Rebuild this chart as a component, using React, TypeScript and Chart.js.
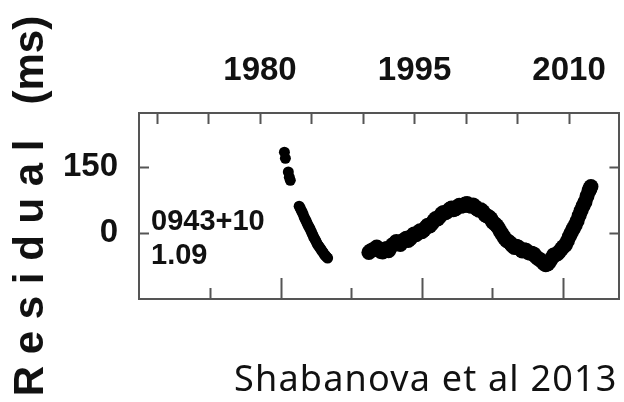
import React, { useEffect, useRef } from "react";
import { Chart, registerables } from "chart.js";

Chart.register(...registerables);

// Timing residuals of PSR 0943+10 (MJD vs residual in ms)
const mjdEarly = [
  45105, 45140, 45244, 45279, 45314,
  45628, 45663, 45697, 45732, 45767, 45802, 45837, 45871, 45906, 45941,
  45976, 46011, 46046, 46080, 46115, 46150, 46185, 46220, 46255, 46290,
  46324, 46359, 46394, 46429, 46464, 46498, 46533, 46568, 46603, 46638,
];
const residualEarly = [
  184, 170, 139, 127, 120,
  61, 57, 52, 48, 43, 37, 32, 28, 23, 18,
  14, 10, 5, 0, -5, -10, -14, -18, -23, -27,
  -30, -33, -36, -40, -43, -46, -50, -52, -55, -57,
];

const mjdLate = [
  48101, 48171, 48241, 48310, 48380, 48450, 48519, 48589, 48659, 48728,
  48798, 48868, 48937, 49007, 49077, 49146, 49216, 49286, 49355, 49425,
  49495, 49565, 49634, 49704, 49774, 49843, 49913, 49983, 50052, 50122,
  50192, 50261, 50331, 50401, 50470, 50540, 50610, 50680, 50749, 50819,
  50888, 50958, 51028, 51098, 51167, 51237, 51307, 51376, 51446, 51516,
  51585, 51655, 51725, 51795, 51864, 51933, 52003, 52073, 52143, 52212,
  52282, 52352, 52421, 52491, 52561, 52630, 52700, 52770, 52839, 52909,
  52979, 53048, 53118, 53188, 53258, 53327, 53397, 53467, 53536, 53606,
  53676, 53746, 53815, 53885, 53954, 54024, 54094, 54163, 54233, 54303,
  54372, 54442, 54512, 54582, 54651, 54721, 54791, 54861, 54930, 55000,
  55069, 55139, 55209, 55279, 55348, 55418, 55487, 55557, 55627, 55697,
  55766, 55836, 55905, 55940, 55975,
];
const residualLate = [
  -44, -40, -38, -36, -32, -37, -42, -43, -37, -35,
  -40, -33, -27, -24, -19, -22, -26, -20, -15, -12,
  -17, -13, -6, -2, -4, 1, 5, 3, 7, 13,
  18, 16, 21, 28, 33, 32, 37, 44, 47, 46,
  49, 54, 57, 53, 55, 60, 63, 61, 62, 66,
  67, 62, 61, 64, 60, 55, 52, 53, 49, 42,
  39, 37, 33, 25, 21, 17, 11, 3, -4, -11,
  -17, -19, -23, -29, -33, -30, -32, -37, -41, -38,
  -39, -44, -46, -46, -48, -54, -58, -60, -64, -69,
  -72, -70, -65, -58, -50, -49, -47, -42, -36, -31,
  -27, -18, -8, 1, 10, 18, 28, 40, 51, 62,
  71, 84, 96, 101, 106,
];

// Axis ticks
const yearTicks = [1970, 1975, 1980, 1985, 1990, 1995, 2000, 2005, 2010];
const yearLabels = [1980, 1995, 2010];
const mjdMajorTicks = [45000, 50000, 55000];
const mjdMinorTicks = [42500, 47500, 52500];
const residualTicks = [0, 150];

const pulsarName = "0943+10";
const pulsarPeriod = "1.09";
const sourceNote = "Shabanova et al 2013";
const axisTitle = "R e s i d u a l   (ms)";

const MJD_MIN = 39949;
const MJD_MAX = 56985;
const RES_MIN = -150;
const RES_MAX = 273;
const mjdToYear = (m: number) => 1858.877 + m / 365.25;

const BOLD = "'Liberation Sans', Arial, sans-serif";
const FRAME = "#555";

const setTicks = (values: number[]) => (scale: any) => {
  scale.ticks = values.map((value) => ({ value }));
};

const notesPlugin = {
  id: "notes",
  afterDraw(chart: any) {
    const { ctx } = chart;
    ctx.save();
    ctx.fillStyle = "#111";
    ctx.textAlign = "left";
    ctx.textBaseline = "alphabetic";
    ctx.font = `bold 29px ${BOLD}`;
    ctx.fillText(pulsarName, 151, 230);
    ctx.fillText(pulsarPeriod, 151, 264);
    ctx.font = "36px 'Noto Sans', 'Open Sans', sans-serif";
    (ctx as any).letterSpacing = "1.2px";
    ctx.fillText(sourceNote, 234, 391);
    ctx.restore();
  },
};

export default function App() {
  const canvasRef = useRef<HTMLCanvasElement | null>(null);

  useEffect(() => {
    const canvas = canvasRef.current;
    if (!canvas) return;
    const chart = new Chart(canvas, {
      type: "scatter",
      data: {
        datasets: [
          {
            data: mjdEarly.map((x, i) => ({ x, y: residualEarly[i] })),
            backgroundColor: "#000",
            borderWidth: 0,
            pointRadius: 5.5,
            xAxisID: "x",
            yAxisID: "y",
          },
          {
            data: mjdLate.map((x, i) => ({ x, y: residualLate[i] })),
            backgroundColor: "#000",
            borderWidth: 0,
            pointRadius: 7.5,
            xAxisID: "x",
            yAxisID: "y",
          },
        ],
      },
      options: {
        animation: false,
        responsive: false,
        devicePixelRatio: 1,
        layout: { padding: { left: 0, right: 12, top: 0, bottom: 103 }, autoPadding: false },
        plugins: { legend: { display: false }, tooltip: { enabled: false } },
        scales: {
          x: {
            type: "linear",
            position: "bottom",
            min: MJD_MIN,
            max: MJD_MAX,
            afterBuildTicks: setTicks(mjdMajorTicks),
            afterFit: (s: any) => { s.height = 0; },
            ticks: { display: false },
            grid: { drawOnChartArea: false, drawTicks: true, tickLength: -21, tickColor: FRAME, tickWidth: 2 },
            border: { display: true, color: FRAME, width: 2 },
          },
          xMinor: {
            type: "linear",
            position: "bottom",
            min: MJD_MIN,
            max: MJD_MAX,
            afterBuildTicks: setTicks(mjdMinorTicks),
            afterFit: (s: any) => { s.height = 0; },
            ticks: { display: false },
            grid: { drawOnChartArea: false, drawTicks: true, tickLength: -11, tickColor: FRAME, tickWidth: 2 },
            border: { display: false },
          },
          xTop: {
            type: "linear",
            position: "top",
            min: mjdToYear(MJD_MIN),
            max: mjdToYear(MJD_MAX),
            afterBuildTicks: setTicks(yearTicks),
            afterFit: (s: any) => { s.height = 113; },
            ticks: {
              autoSkip: false,
              maxRotation: 0,
              padding: 33,
              color: "#111",
              font: { family: BOLD, size: 33, weight: "bold" },
              callback: (v: any) => (yearLabels.includes(Number(v)) ? String(v) : ""),
            },
            grid: { drawOnChartArea: false, drawTicks: true, tickLength: -11, tickColor: FRAME, tickWidth: 2 },
            border: { display: true, color: FRAME, width: 2 },
          },
          y: {
            type: "linear",
            position: "left",
            min: RES_MIN,
            max: RES_MAX,
            afterBuildTicks: setTicks(residualTicks),
            afterFit: (s: any) => { s.width = 139; },
            ticks: {
              padding: 31,
              color: "#111",
              font: { family: BOLD, size: 33, weight: "bold" },
            },
            grid: { drawOnChartArea: false, drawTicks: true, tickLength: -10, tickColor: FRAME, tickWidth: 2 },
            border: { display: true, color: FRAME, width: 2 },
            title: {
              display: true,
              text: axisTitle,
              color: "#111",
              padding: { top: 6, bottom: 0 },
              font: { family: BOLD, size: 42, weight: "bold" },
            },
          },
          yRight: {
            type: "linear",
            position: "right",
            min: RES_MIN,
            max: RES_MAX,
            afterBuildTicks: setTicks(residualTicks),
            afterFit: (s: any) => { s.width = 0; },
            ticks: { display: false },
            grid: { drawOnChartArea: false, drawTicks: true, tickLength: -10, tickColor: FRAME, tickWidth: 2 },
            border: { display: true, color: FRAME, width: 2 },
          },
        },
      } as any,
      plugins: [notesPlugin],
    });
    return () => chart.destroy();
  }, []);

  return (
    <div
      style={{
        position: "fixed",
        left: 0,
        top: 0,
        width: 624,
        height: 402,
        overflow: "hidden",
        background: "#fff",
      }}
    >
      <canvas ref={canvasRef} width={640} height={402} style={{ display: "block", width: 640, height: 402 }} />
    </div>
  );
}
